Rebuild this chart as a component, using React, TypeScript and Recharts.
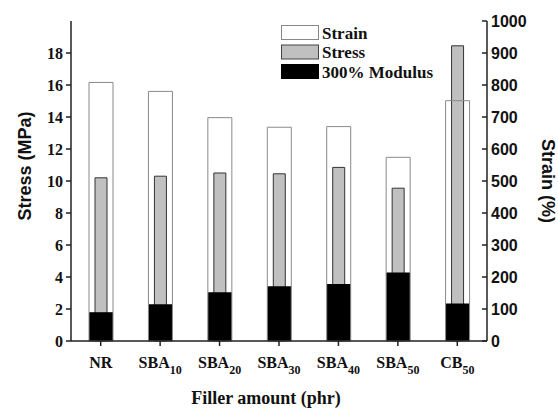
import React from "react";
import { BarChart, Bar, XAxis, YAxis, Legend } from "recharts";

const categories = ["NR", "SBA10", "SBA20", "SBA30", "SBA40", "SBA50", "CB50"];
const strain = [808, 780, 698, 668, 670, 574, 751];
const stress = [10.2, 10.3, 10.5, 10.45, 10.85, 9.55, 18.45];
const modulus = [1.8, 2.3, 3.05, 3.42, 3.56, 4.28, 2.35];
const stressTicks = [0, 2, 4, 6, 8, 10, 12, 14, 16, 18];
const strainTicks = [0, 100, 200, 300, 400, 500, 600, 700, 800, 900, 1000];

const data = categories.map((name, i) => ({
  name,
  strain: strain[i],
  stress: stress[i],
  modulus: modulus[i],
}));

const serif = "'Liberation Serif', 'Times New Roman', serif";
const sans = "'Liberation Sans', Arial, sans-serif";
const axisColor = "#222";

const legendItems = [
  { name: "Strain", fill: "#fff", stroke: "#888" },
  { name: "Stress", fill: "#c0c0c0", stroke: "#444" },
  { name: "300% Modulus", fill: "#000", stroke: "#000" },
];

const CategoryTick = (props: any) => {
  const { x, y, payload } = props;
  const m = String(payload.value).match(/^([A-Z]+)(\d*)$/);
  const base = m ? m[1] : payload.value;
  const sub = m ? m[2] : "";
  return (
    <text
      x={x}
      y={y + 20}
      textAnchor="middle"
      fontFamily={serif}
      fontWeight="bold"
      fontSize={16}
      fill="#111"
    >
      <tspan>{base}</tspan>
      {sub && (
        <tspan dy={6} fontSize={12}>
          {sub}
        </tspan>
      )}
    </text>
  );
};

const LeftTick = (props: any) => {
  const { x, y, payload } = props;
  return (
    <text
      x={x}
      y={y}
      dy={5.5}
      textAnchor="end"
      fontFamily={serif}
      fontWeight="bold"
      fontSize={16}
      fill="#111"
    >
      {payload.value}
    </text>
  );
};

// ticks of the right axis point into the plot
const RightTick = (props: any) => {
  const { x, y, payload } = props;
  return (
    <g>
      <line x1={x - 9} x2={x - 4} y1={y} y2={y} stroke={axisColor} strokeWidth={1.5} />
      <text
        x={x}
        y={y}
        dy={5.5}
        textAnchor="start"
        fontFamily={sans}
        fontWeight="bold"
        fontSize={16}
        fill="#111"
      >
        {payload.value}
      </text>
    </g>
  );
};

const LeftTitle = (props: any) => {
  const { x, y, height } = props.viewBox;
  const cx = x + 25;
  const cy = y + height / 2 - 15;
  return (
    <text
      x={cx}
      y={cy}
      transform={`rotate(-90 ${cx} ${cy})`}
      textAnchor="middle"
      dominantBaseline="central"
      fontFamily={sans}
      fontWeight="bold"
      fontSize={18}
      fill="#111"
    >
      Stress (MPa)
    </text>
  );
};

const RightTitle = (props: any) => {
  const { x, y, height } = props.viewBox;
  const cx = x + 61;
  const cy = y + height / 2;
  return (
    <text
      x={cx}
      y={cy}
      transform={`rotate(90 ${cx} ${cy})`}
      textAnchor="middle"
      dominantBaseline="central"
      fontFamily={sans}
      fontWeight="bold"
      fontSize={18}
      fill="#111"
    >
      Strain (%)
    </text>
  );
};

const BottomTitle = (props: any) => {
  const { x, y, width } = props.viewBox;
  return (
    <text
      x={x + width / 2 - 13}
      y={y + 57}
      textAnchor="middle"
      dominantBaseline="central"
      fontFamily={serif}
      fontWeight="bold"
      fontSize={18}
      fill="#111"
    >
      Filler amount (phr)
    </text>
  );
};

const LegendBox = () => (
  <svg width={200} height={60}>
    {legendItems.map((it, i) => (
      <g key={it.name} transform={`translate(0, ${i * 19.5})`}>
        <rect x={0.5} y={0.5} width={37} height={14} fill={it.fill} stroke={it.stroke} />
        <text
          x={41}
          y={8}
          dominantBaseline="central"
          fontFamily={serif}
          fontWeight="bold"
          fontSize={17}
          fill="#111"
        >
          {it.name}
        </text>
      </g>
    ))}
  </svg>
);

export default function App() {
  return (
    <div style={{ position: "absolute", left: 0, top: 0, background: "#fff" }}>
      <BarChart
        width={558}
        height={408}
        data={data}
        margin={{ top: 21, right: 0, bottom: 0, left: 0 }}
      >
        <XAxis
          xAxisId="main"
          dataKey="name"
          height={67}
          tick={<CategoryTick />}
          tickSize={5}
          tickMargin={2}
          tickLine={{ stroke: axisColor, strokeWidth: 1.5 }}
          axisLine={{ stroke: axisColor, strokeWidth: 1.5 }}
          interval={0}
          label={<BottomTitle />}
        />
        <XAxis xAxisId="mid" dataKey="name" height={0} hide />
        <XAxis xAxisId="back" dataKey="name" height={0} hide />
        <XAxis
          xAxisId="top"
          orientation="top"
          dataKey="name"
          height={0}
          tick={false}
          tickLine={false}
          axisLine={{ stroke: axisColor, strokeWidth: 1.5 }}
        />
        <YAxis
          yAxisId="stress"
          orientation="left"
          width={71}
          domain={[0, 20]}
          ticks={stressTicks}
          tick={<LeftTick />}
          tickSize={5}
          tickMargin={3}
          tickLine={{ stroke: axisColor, strokeWidth: 1.5 }}
          axisLine={{ stroke: axisColor, strokeWidth: 1.5 }}
          label={<LeftTitle />}
        />
        <YAxis
          yAxisId="strain"
          orientation="right"
          width={71}
          domain={[0, 1000]}
          ticks={strainTicks}
          tick={<RightTick />}
          tickSize={0}
          tickMargin={4}
          tickLine={false}
          axisLine={{ stroke: axisColor, strokeWidth: 1.5 }}
          label={<RightTitle />}
        />
        <Legend
          layout="vertical"
          align="center"
          verticalAlign="middle"
          content={<LegendBox />}
          wrapperStyle={{ left: 281, top: 24.5, width: 200, height: 60 }}
        />
        <Bar
          xAxisId="back"
          yAxisId="stress"
          dataKey="stress"
          name="Stress"
          barSize={12}
          fill="#c0c0c0"
          stroke="#333"
          strokeWidth={1}
          isAnimationActive={false}
        />
        <Bar
          xAxisId="mid"
          yAxisId="stress"
          dataKey="modulus"
          name="300% Modulus"
          barSize={24}
          fill="#000"
          isAnimationActive={false}
        />
        <Bar
          xAxisId="main"
          yAxisId="strain"
          dataKey="strain"
          name="Strain"
          barSize={24}
          fill="none"
          stroke="#8a8a8a"
          strokeWidth={1}
          isAnimationActive={false}
        />
      </BarChart>
    </div>
  );
}
